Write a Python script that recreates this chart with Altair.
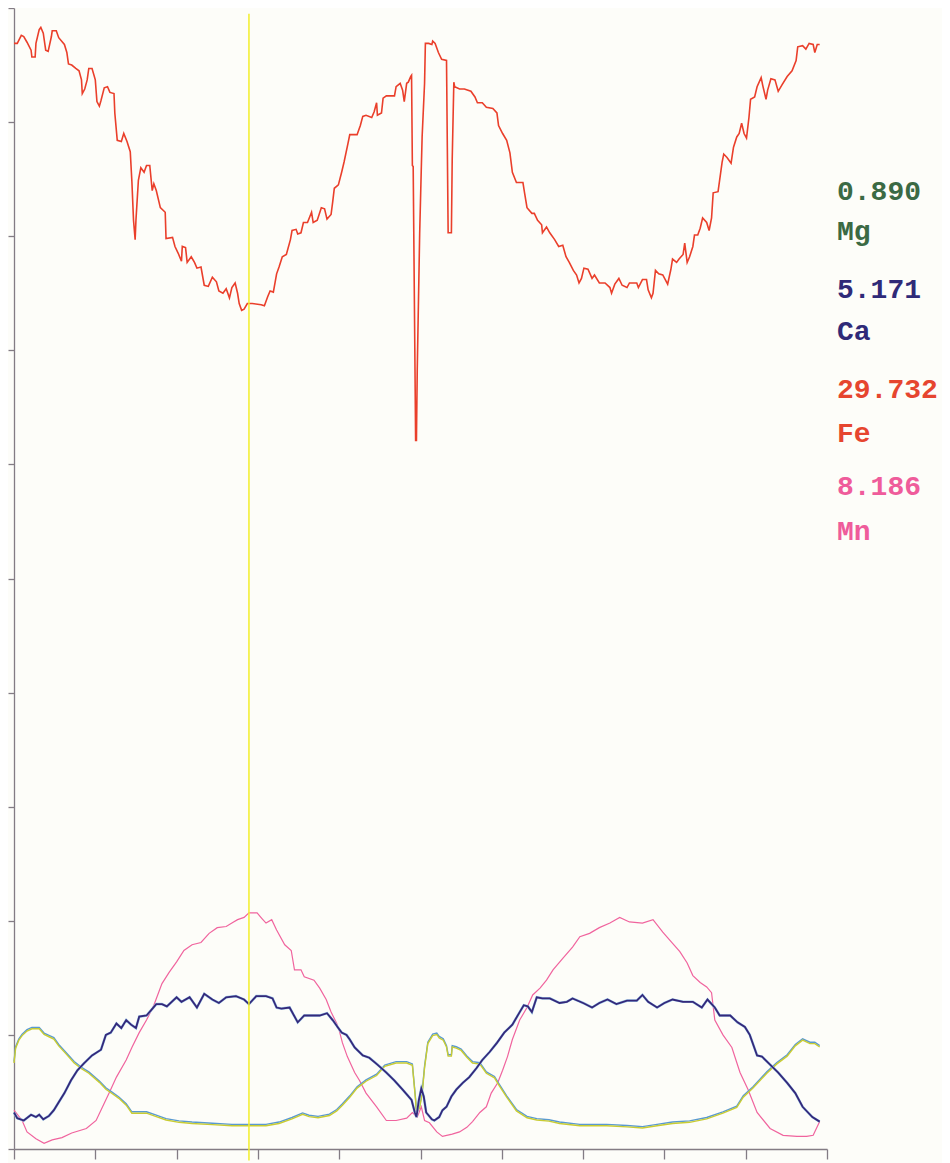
import altair as alt
import pandas as pd

# ---- data (x: position 0-100, y: relative intensity 0-100) ----
fe = [(0, 96.9), (0.4, 96.9), (0.9, 97.6), (1.2, 97.5), (1.6, 97.0), (2.1, 96.3), (2.2, 95.7), (2.6, 95.7),
      (2.7, 96.9), (3.1, 98.1), (3.3, 98.3), (3.6, 97.8), (3.9, 96.3), (4.2, 96.2), (4.6, 97.5), (4.7, 98.0),
      (5.2, 98.0), (5.5, 97.4), (6.2, 96.8), (6.5, 96.1), (6.7, 95.1), (7.1, 95.0), (7.6, 94.7), (8.0, 94.5),
      (8.3, 93.7), (8.4, 92.5), (8.7, 92.9), (9.0, 93.7), (9.2, 94.7), (9.6, 94.7), (10.0, 93.7), (10.2, 91.8),
      (10.5, 91.4), (10.7, 91.9), (11.1, 93.0), (11.5, 93.1), (11.8, 92.6), (12.3, 92.5), (12.4, 90.8),
      (12.7, 88.4), (13.2, 88.3), (13.5, 89.0), (13.9, 88.3), (14.3, 87.4), (14.5, 84.8), (14.7, 81.4),
      (14.9, 79.7), (15.0, 81.4), (15.3, 84.9), (15.6, 86.0), (16.0, 85.6), (16.3, 86.2), (16.7, 86.2),
      (17.0, 84.0), (17.2, 84.6), (17.5, 84.0), (18.0, 82.5), (18.6, 82.1), (18.7, 79.8), (19.5, 79.9),
      (19.8, 79.1), (20.2, 78.5), (20.6, 77.8), (20.7, 79.1), (21.1, 79.0), (21.3, 77.7), (21.8, 78.2),
      (22.2, 77.7), (22.5, 77.2), (23.0, 77.3), (23.4, 75.7), (23.9, 75.6), (24.4, 76.4), (24.9, 76.0),
      (25.2, 75.2), (25.7, 75.0), (26.1, 75.4), (26.5, 74.6), (26.8, 75.5), (27.2, 75.9), (27.5, 75.0),
      (27.7, 74.1), (28.0, 73.5), (28.3, 73.6), (28.7, 74.1), (29.3, 74.1), (30.4, 74.0), (30.8, 73.9),
      (31.2, 74.7), (31.5, 75.2), (31.9, 75.1), (32.3, 76.7), (32.6, 77.3), (33.0, 78.2), (33.5, 78.4),
      (34.0, 79.7), (34.2, 80.5), (34.7, 80.6), (34.9, 80.2), (35.3, 80.3), (35.6, 81.2), (36.1, 81.2),
      (36.6, 82.1), (36.8, 81.2), (37.3, 81.4), (37.8, 82.5), (38.2, 82.4), (38.5, 81.5), (39.0, 81.9),
      (39.2, 83.0), (39.4, 84.2), (39.9, 84.5), (40.3, 85.6), (40.6, 86.5), (41.1, 88.2), (41.3, 88.9),
      (42.2, 88.9), (42.6, 89.7), (42.9, 90.5), (43.3, 90.6), (44.0, 90.4), (44.3, 90.9), (44.6, 91.7),
      (44.7, 90.6), (45.2, 90.8), (45.4, 92.1), (45.8, 92.3), (46.8, 92.3), (47.0, 93.1), (47.5, 93.4),
      (47.8, 92.8), (48.0, 91.8), (48.3, 93.4), (48.5, 93.5), (48.8, 94.0), (48.9, 94.1), (49.0, 86.2),
      (49.1, 86.1), (49.3, 70.2), (49.4, 62.1), (49.5, 62.1), (49.6, 68.3), (49.9, 80.3), (50.1, 86.0),
      (50.2, 88.7), (50.5, 93.4), (50.6, 96.9), (51.0, 96.9), (51.4, 96.8), (51.5, 97.1), (51.8, 96.9),
      (52.2, 96.1), (52.6, 95.5), (53.2, 95.4), (53.3, 87.8), (53.4, 80.3), (53.8, 80.3), (53.9, 86.7),
      (54.1, 93.5), (54.2, 93.1), (54.8, 92.9), (55.4, 92.9), (56.2, 92.7), (56.7, 92.2), (57.0, 91.7),
      (57.6, 91.7), (58.1, 91.3), (58.9, 91.2), (59.4, 90.8), (59.6, 89.7), (60.1, 89.0), (60.6, 88.4),
      (61.0, 87.3), (61.3, 85.6), (61.8, 84.7), (62.3, 84.7), (62.6, 84.7), (62.8, 83.8), (63.1, 82.5),
      (63.7, 82.0), (64.0, 82.0), (64.4, 81.4), (64.9, 81.0), (65.0, 80.3), (65.5, 80.8), (65.9, 80.3),
      (66.5, 79.7), (67.0, 79.1), (67.5, 79.2), (67.9, 78.2), (68.3, 77.7), (68.8, 77.0), (69.2, 76.6),
      (69.5, 75.9), (69.8, 76.3), (70.1, 77.2), (70.6, 77.1), (71.1, 76.3), (71.4, 76.6), (72.0, 75.9),
      (72.7, 75.9), (73.3, 75.5), (73.5, 75.0), (73.9, 75.8), (74.4, 76.3), (74.8, 75.7), (75.4, 75.5),
      (75.7, 75.9), (76.6, 75.9), (76.8, 75.5), (77.3, 76.2), (77.8, 76.2), (78.0, 75.3), (78.4, 74.6),
      (78.6, 75.0), (78.9, 77.0), (79.3, 76.7), (79.8, 76.6), (80.4, 75.8), (80.8, 77.1), (81.0, 78.0),
      (81.5, 77.7), (81.8, 78.0), (82.3, 78.4), (82.5, 79.4), (82.8, 77.7), (83.1, 78.2), (83.5, 79.1),
      (83.7, 80.1), (84.1, 80.1), (84.4, 80.7), (84.7, 81.6), (85.2, 81.2), (85.5, 80.5), (85.8, 81.6),
      (86.0, 83.8), (86.6, 83.9), (87.1, 86.5), (87.3, 87.2), (87.7, 86.9), (88.2, 86.4), (88.5, 87.8),
      (88.9, 88.7), (89.2, 89.0), (89.5, 89.9), (89.8, 89.0), (90.1, 88.6), (90.4, 90.4), (90.6, 92.0),
      (91.1, 92.2), (91.4, 93.1), (91.9, 93.9), (92.1, 93.2), (92.5, 92.0), (92.7, 92.8), (93.1, 93.8),
      (93.6, 93.7), (94.0, 92.7), (94.5, 93.3), (95.1, 94.0), (95.7, 94.5), (96.2, 95.4), (96.4, 96.6),
      (97.0, 96.7), (97.4, 96.4), (97.8, 96.9), (98.3, 96.8), (98.5, 96.1), (98.8, 96.8), (99.1, 96.8)]

mg = [(0, 7.6), (0.2, 8.9), (0.6, 9.6), (1.0, 10.0), (1.6, 10.4), (2.2, 10.6), (3.1, 10.6), (3.7, 10.1),
      (4.3, 9.9), (4.9, 9.7), (5.5, 9.1), (6.4, 8.4), (7.4, 7.6), (8.3, 7.1), (9.2, 6.7), (10.5, 5.9),
      (11.3, 5.3), (12.1, 4.9), (12.9, 4.5), (13.8, 3.9), (14.5, 3.2), (16.3, 3.2), (17.5, 2.9), (18.7, 2.6),
      (20.3, 2.4), (21.9, 2.3), (24.4, 2.2), (26.8, 2.1), (28.9, 2.1), (31.0, 2.1), (32.6, 2.3), (34.2, 2.7),
      (35.5, 3.1), (36.3, 2.9), (37.4, 2.8), (38.8, 3.0), (39.7, 3.4), (40.4, 3.9), (41.3, 4.6), (42.2, 5.4),
      (43.3, 6.0), (44.6, 6.5), (45.6, 7.3), (47.0, 7.6), (48.3, 7.6), (49.0, 7.4), (49.4, 4.3), (49.5, 3.2),
      (49.9, 3.7), (50.2, 4.9), (50.5, 7.2), (50.9, 9.3), (51.5, 10.0), (52.0, 10.1), (52.3, 9.8),
      (52.8, 9.6), (53.2, 9.0), (53.4, 8.2), (53.8, 8.2), (53.9, 9.0), (54.4, 8.9), (55.0, 8.7), (55.7, 8.1),
      (56.4, 7.6), (57.3, 7.5), (58.1, 6.7), (59.1, 6.3), (59.7, 5.6), (60.6, 4.6), (61.8, 3.4), (63.1, 2.8),
      (64.3, 2.6), (65.8, 2.5), (67.1, 2.3), (69.6, 2.1), (72.9, 2.1), (75.4, 2.0), (77.3, 1.9), (79.1, 2.1),
      (81.0, 2.3), (83.1, 2.4), (85.2, 2.7), (87.2, 3.2), (88.9, 3.7), (89.7, 4.6), (90.9, 5.4), (92.6, 6.7),
      (93.8, 7.5), (95.1, 8.2), (96.1, 9.1), (97.0, 9.6), (97.9, 9.3), (98.5, 9.3), (99.1, 9.0)]

ca = [(0, 3.2), (0.4, 2.7), (1.2, 2.5), (2.1, 3.0), (2.7, 2.8), (3.1, 3.0), (3.6, 2.6), (4.3, 2.9),
      (4.9, 3.4), (5.5, 4.1), (6.2, 4.9), (7.0, 6.0), (7.8, 6.9), (8.6, 7.5), (9.6, 8.2), (10.7, 8.7),
      (11.3, 10.0), (11.9, 10.2), (12.6, 11.0), (13.2, 10.6), (13.8, 11.3), (14.4, 10.9), (15.0, 10.6),
      (15.4, 11.6), (16.3, 11.7), (16.9, 12.2), (17.5, 12.7), (18.2, 12.7), (18.8, 12.5), (20.0, 13.3),
      (20.6, 12.9), (21.6, 13.3), (22.5, 12.4), (23.4, 13.6), (24.4, 13.1), (25.2, 12.8), (26.1, 13.3),
      (27.3, 13.4), (28.3, 13.1), (28.9, 12.7), (29.8, 13.4), (31.0, 13.4), (31.8, 13.2), (32.3, 12.4),
      (32.9, 12.3), (33.9, 12.4), (34.9, 11.1), (35.7, 11.7), (36.7, 11.7), (37.6, 11.7), (38.5, 11.9),
      (39.2, 11.3), (39.8, 10.7), (40.3, 10.2), (40.9, 10.0), (41.3, 9.6), (41.9, 8.9), (42.9, 8.2),
      (43.7, 8.0), (44.7, 7.4), (45.8, 6.7), (46.8, 6.0), (47.8, 5.2), (48.9, 4.3), (49.3, 3.2), (49.5, 2.8),
      (49.8, 4.3), (50.1, 5.3), (50.4, 4.6), (50.7, 3.2), (51.4, 2.6), (51.7, 2.5), (52.3, 2.8), (52.7, 3.4),
      (53.2, 3.7), (53.8, 4.6), (54.4, 5.2), (55.2, 5.8), (56.0, 6.3), (56.9, 7.1), (57.6, 7.8), (58.5, 8.5),
      (59.4, 9.3), (60.3, 10.2), (61.3, 10.9), (62.2, 12.0), (62.7, 12.6), (63.2, 12.5), (63.7, 12.0),
      (64.3, 13.3), (65.0, 13.2), (65.9, 13.2), (67.1, 12.8), (68.0, 12.9), (68.7, 13.2), (70.0, 12.8),
      (71.1, 12.4), (72.0, 12.8), (73.0, 13.1), (74.1, 12.7), (75.4, 13.0), (76.6, 13.0), (77.3, 13.5),
      (78.0, 12.9), (79.1, 12.4), (80.0, 12.8), (81.0, 13.1), (82.3, 12.9), (83.5, 12.9), (84.6, 12.4),
      (85.3, 13.1), (86.2, 12.4), (86.8, 11.7), (88.1, 11.7), (89.0, 11.1), (89.9, 10.7), (90.5, 10.0),
      (91.4, 8.2), (92.0, 8.1), (93.0, 7.4), (94.0, 6.7), (95.1, 5.8), (96.1, 4.9), (97.0, 3.7), (98.2, 2.8),
      (99.1, 2.4)]

mn = [(0, 3.4), (1.0, 2.5), (1.6, 1.5), (2.7, 0.9), (3.7, 0.5), (4.7, 0.8), (5.9, 1.0), (7.1, 1.4),
      (8.9, 1.8), (10.1, 2.5), (11.1, 4.0), (11.7, 4.9), (12.6, 6.3), (13.8, 7.8), (14.5, 8.9), (15.4, 10.2),
      (16.3, 11.3), (17.2, 12.6), (18.2, 14.5), (19.1, 15.5), (20.0, 16.4), (20.9, 17.4), (21.9, 17.9),
      (23.0, 18.1), (24.0, 18.9), (25.0, 19.4), (26.1, 19.5), (26.8, 19.8), (27.5, 20.1), (28.3, 20.3),
      (28.9, 20.7), (29.9, 20.7), (30.5, 20.2), (31.0, 19.8), (31.7, 20.1), (32.3, 19.2), (33.3, 17.9),
      (34.1, 17.4), (34.5, 15.7), (35.3, 15.7), (35.7, 15.1), (36.9, 14.8), (37.6, 14.1), (38.4, 13.1),
      (39.0, 12.0), (39.7, 11.0), (40.0, 10.4), (40.4, 9.3), (41.0, 8.1), (41.9, 6.7), (42.5, 6.0),
      (43.3, 4.9), (44.6, 3.7), (45.8, 2.5), (47.0, 2.5), (48.3, 2.7), (49.0, 3.2), (49.6, 2.8), (50.1, 3.7),
      (50.5, 2.5), (51.1, 2.3), (52.0, 1.5), (52.7, 1.1), (53.9, 1.3), (54.8, 1.5), (55.7, 1.9), (56.4, 2.4),
      (57.3, 3.2), (58.1, 3.7), (58.7, 4.9), (59.5, 5.8), (60.1, 6.9), (60.7, 8.1), (61.3, 9.6), (62.2, 11.3),
      (63.1, 12.4), (63.8, 13.5), (64.7, 14.1), (65.5, 14.8), (66.3, 15.7), (67.5, 16.7), (68.7, 17.7),
      (69.6, 18.6), (70.8, 18.9), (72.0, 19.4), (73.3, 19.8), (74.5, 20.3), (75.7, 19.9), (77.3, 19.8),
      (78.6, 20.1), (79.8, 19.0), (80.9, 18.1), (81.9, 17.3), (82.8, 16.3), (83.5, 15.2), (84.4, 14.6),
      (85.2, 14.2), (85.8, 13.7), (86.2, 11.3), (87.2, 10.0), (88.3, 8.9), (89.3, 6.7), (90.3, 5.2),
      (91.4, 3.2), (93.0, 1.8), (94.6, 1.2), (96.3, 1.1), (97.5, 1.1), (98.3, 1.2), (99.1, 2.4)]

cursor_x = [28.9]
x_ticks = [0, 10, 20, 30, 40, 50, 60, 70, 80, 90, 100]
y_ticks = [0, 10, 20, 30, 40, 50, 60, 70, 80, 90, 100]
label_texts = ["0.890", "Mg", "5.171", "Ca", "29.732", "Fe", "8.186", "Mn"]
label_colors = ["#3b6a44", "#3b6a44", "#2f2a78", "#2f2a78", "#e6452f", "#e6452f", "#ef5c9b", "#ef5c9b"]


def frame(pts):
    return pd.DataFrame({"x": [p[0] for p in pts], "y": [p[1] for p in pts], "i": list(range(len(pts)))})


xs = alt.Scale(domain=[0, 100], nice=False, zero=False)
ys = alt.Scale(domain=[0, 100], nice=False, zero=False)
x_axis = alt.Axis(values=x_ticks, labels=False, title=None, grid=False, tickSize=10)
y_axis = alt.Axis(values=y_ticks, labels=False, title=None, grid=False, tickSize=6)


def line(pts, color, width, yoff=0.0):
    kw = dict(color=color, strokeWidth=width, interpolate="linear")
    if yoff:
        kw["yOffset"] = yoff
    return alt.Chart(frame(pts)).mark_line(**kw).encode(
        x=alt.X("x:Q", scale=xs, axis=x_axis),
        y=alt.Y("y:Q", scale=ys, axis=y_axis),
        order=alt.Order("i:Q"),
    )


layers = [
    line(fe, "#ea3f2b", 1.6),
    line(mn, "#f0649e", 1.2),
    line(mg, "#5a9ad0", 1.4, -0.7),
    line(mg, "#c9cc33", 1.4, 0.7),
    line(ca, "#9cc8ea", 2.6),
    line(ca, "#35287a", 1.8),
]

cursor = alt.Chart(pd.DataFrame({"x": cursor_x})).mark_rule(color="#f2ee2a", strokeWidth=1.5).encode(
    x=alt.X("x:Q", scale=xs, axis=x_axis),
    y=alt.datum(99.5),
    y2=alt.datum(-1.0),
)
layers.append(cursor)

baselines = [192, 232, 290, 332, 390, 434, 487, 532]
for txt, col, yy in zip(label_texts, label_colors, baselines):
    layers.append(
        alt.Chart(pd.DataFrame({"t": [txt]})).mark_text(
            align="left", baseline="alphabetic", font="Liberation Mono", fontWeight="bold",
            fontSize=28, color=col,
        ).encode(text="t:N", x=alt.value(823), y=alt.value(yy))
    )

chart = alt.layer(*layers).properties(
    width=813,
    height=1141,
    padding={"left": 6, "top": 0, "right": 115, "bottom": 14},
    autosize=alt.AutoSizeParams(type="none"),
    background="#fdfdf9",
).configure_view(stroke=None).configure_axis(
    domainColor="#837c84", tickColor="#837c84", domainWidth=1.3, tickWidth=1.3
)

chart.save("out.html", embed_options={"renderer": "svg", "actions": False})
